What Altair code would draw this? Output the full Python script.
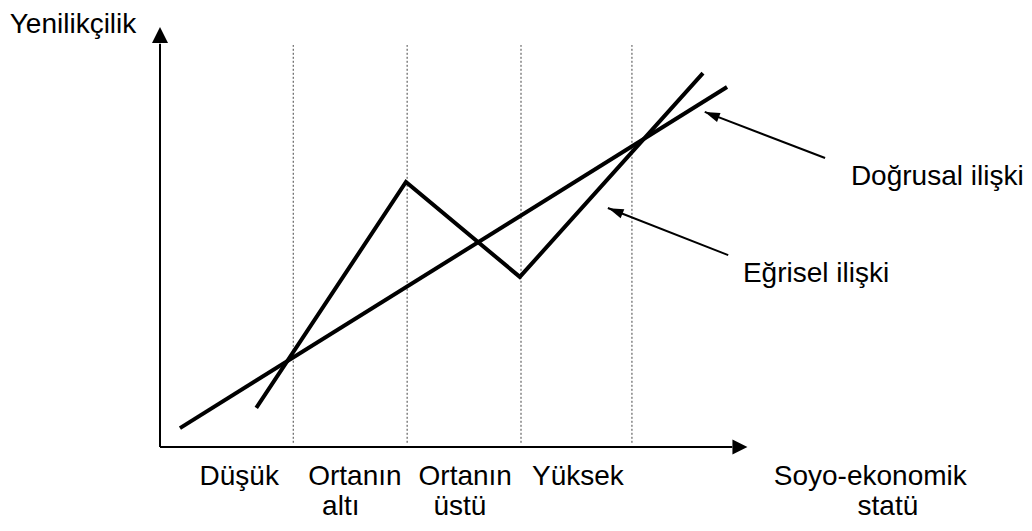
import altair as alt
import pandas as pd

# ---- data (x: socio-economic status, y: innovativeness, arbitrary units 0-10) ----
linear_x = [0.34, 9.66]
linear_y = [0.45, 8.57]
curve_x = [1.64, 4.19, 6.13, 9.25]
curve_y = [0.93, 6.31, 4.05, 8.90]

divider_x = [2.27, 4.21, 6.15, 8.04]
divider_y = [0.1, 9.57]

category_line1 = ["Düşük", "Ortanın", "Ortanın", "Yüksek", "Soyo-ekonomik"]
category_x1 = [1.35, 3.32, 5.20, 7.12, 12.10]
category_line2 = ["altı", "üstü", "statü"]
category_x2 = [3.08, 5.11, 12.40]
label_y1 = -0.90
label_y2 = -1.63

y_title = "Yenilikçilik"
y_title_pos = (-2.56, 9.86)

ann_text = ["Doğrusal ilişki", "Eğrisel ilişki"]
ann_text_x = [11.77, 9.93]
ann_text_y = [6.24, 3.93]
ann_tail_x = [11.33, 9.68]
ann_tail_y = [6.88, 4.57]
ann_tip_x = [9.28, 7.63]
ann_tip_y = [7.98, 5.69]
ann_head_x = [9.40, 7.76]
ann_head_y = [7.91, 5.62]
ann_angle = [291, 292]

axis_y_top = 9.6
axis_x_end = 9.75
arrow_y_head = (0, 9.81)
arrow_x_head = (9.88, 0)

FONT = "Liberation Sans"
FS = 28

xs = alt.Scale(domain=[0, 10], range=[152, 739])
ys = alt.Scale(domain=[0, 10], range=[439, 19])
X = lambda f: alt.X(f, type="quantitative", scale=xs, axis=None)
Y = lambda f: alt.Y(f, type="quantitative", scale=ys, axis=None)

# relationship lines
rows = []
for i, (a, b) in enumerate(zip(linear_x, linear_y)):
    rows.append({"s": "linear", "o": i, "x": a, "y": b})
for i, (a, b) in enumerate(zip(curve_x, curve_y)):
    rows.append({"s": "curve", "o": i, "x": a, "y": b})
lines_df = pd.DataFrame(rows)
lines = alt.Chart(lines_df).mark_line(color="black", strokeWidth=4, strokeCap="butt").encode(
    x=X("x"), y=Y("y"), detail="s:N", order="o:Q"
)

# dotted dividers
div_df = pd.DataFrame({"x": divider_x, "y0": [divider_y[0]] * 4, "y1": [divider_y[1]] * 4})
dividers = alt.Chart(div_df).mark_rule(color="#444444", strokeWidth=1, strokeDash=[2, 2]).encode(
    x=X("x"), y=Y("y0"), y2="y1"
)

# axes
ax_df = pd.DataFrame({"x": [0, 0], "y": [0, 0], "x2": [0, axis_x_end], "y2": [axis_y_top, 0]})
axes = alt.Chart(ax_df).mark_rule(color="black", strokeWidth=2).encode(
    x=X("x"), y=Y("y"), x2="x2", y2="y2"
)
head_up = alt.Chart(pd.DataFrame({"x": [arrow_y_head[0]], "y": [arrow_y_head[1]]})).mark_point(
    shape="M0,-1L1,1L-1,1Z", size=256, filled=True, color="black", opacity=1
).encode(x=X("x"), y=Y("y"))
head_right = alt.Chart(pd.DataFrame({"x": [arrow_x_head[0]], "y": [arrow_x_head[1]]})).mark_point(
    shape="M1,0L-1,-1L-1,1Z", size=225, filled=True, color="black", opacity=1
).encode(x=X("x"), y=Y("y"))

# annotation pointers
ann_df = pd.DataFrame({"x": ann_tail_x, "y": ann_tail_y, "x2": ann_tip_x, "y2": ann_tip_y})
pointers = alt.Chart(ann_df).mark_rule(color="black", strokeWidth=2).encode(
    x=X("x"), y=Y("y"), x2="x2", y2="y2"
)
heads_df = pd.DataFrame({"x": ann_head_x, "y": ann_head_y, "a": ann_angle})
heads = alt.Chart(heads_df).mark_point(
    shape="M0,-1L0.65,1L-0.65,1Z", size=225, filled=True, color="black", opacity=1
).encode(x=X("x"), y=Y("y"), angle=alt.Angle("a:Q", scale=None))

# texts
ann_lbl = alt.Chart(pd.DataFrame({"x": ann_text_x, "y": ann_text_y, "t": ann_text})).mark_text(
    align="left", baseline="alphabetic", font=FONT, fontSize=FS, color="black"
).encode(x=X("x"), y=Y("y"), text="t:N")

cat_df = pd.DataFrame({
    "x": category_x1 + category_x2,
    "y": [label_y1] * len(category_line1) + [label_y2] * len(category_line2),
    "t": category_line1 + category_line2,
})
cat_lbl = alt.Chart(cat_df).mark_text(
    align="center", baseline="alphabetic", font=FONT, fontSize=FS, color="black"
).encode(x=X("x"), y=Y("y"), text="t:N")

ytitle = alt.Chart(pd.DataFrame({"x": [y_title_pos[0]], "y": [y_title_pos[1]], "t": [y_title]})).mark_text(
    align="left", baseline="alphabetic", font=FONT, fontSize=FS, color="black"
).encode(x=X("x"), y=Y("y"), text="t:N")

chart = alt.layer(
    dividers, axes, head_up, head_right, lines, pointers, heads, ann_lbl, cat_lbl, ytitle
).properties(
    width=1016, height=515, padding=0, autosize=alt.AutoSizeParams(type="none")
).configure_view(stroke=None)

chart.save("out.html", embed_options={"renderer": "svg", "actions": False})
